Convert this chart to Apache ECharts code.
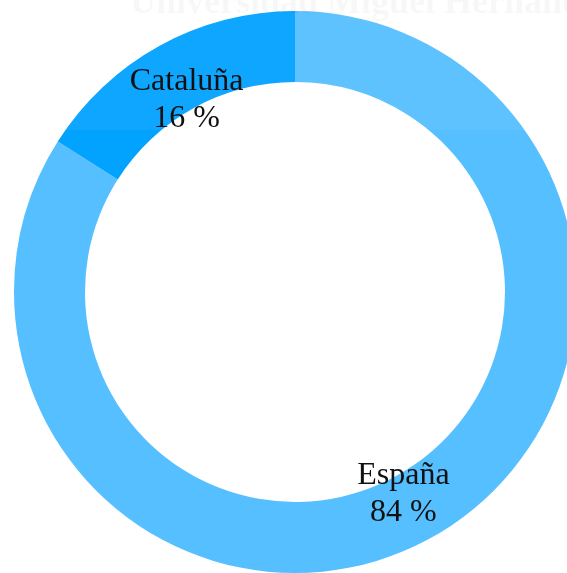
<!DOCTYPE html>
<html>
<head>
<meta charset="utf-8">
<script src="https://cdn.jsdelivr.net/npm/echarts@6/dist/echarts.min.js"></script>
<style>
  html, body { margin: 0; padding: 0; background: #fff; }
  #chart { width: 567px; height: 573px; }
</style>
</head>
<body>
<div id="chart"></div>
<script>
var regiones = ['España', 'Cataluña'];
var porcentajes = [84, 16];
var colores = ['#56BFFF', '#02A2FF'];

var datos = regiones.map(function (n, i) {
  return { name: n, value: porcentajes[i], itemStyle: { color: colores[i] } };
});

var chart = echarts.init(document.getElementById('chart'));
chart.setOption({
  animation: false,
  graphic: [
    {
      type: 'text', left: 130, top: -14, z: 10, silent: true,
      style: {
        text: 'Universidad Miguel Hernández',
        font: 'bold 36px "Liberation Serif"',
        fill: 'rgba(0,0,0,0.035)'
      }
    },
    {
      type: 'rect', z: 10, silent: true,
      shape: { x: 20, y: 0, width: 547, height: 130 },
      style: { fill: 'rgba(255,255,255,0.05)' }
    }
  ],
  series: [
    {
      type: 'pie',
      center: [295, 292],
      radius: [210, 281],
      startAngle: 90,
      clockwise: true,
      label: { show: false },
      labelLine: { show: false },
      emphasis: { disabled: true },
      data: datos
    },
    {
      // serie invisible solo para colocar las etiquetas en el radio ~222
      type: 'pie',
      center: [295, 292],
      radius: [200, 244],
      startAngle: 90,
      clockwise: true,
      silent: true,
      z: 20,
      itemStyle: { color: 'transparent' },
      label: {
        show: true,
        position: 'inside',
        offset: [0, 5],
        fontFamily: 'Liberation Serif',
        fontSize: 32,
        lineHeight: 37,
        color: '#111',
        formatter: function (p) { return p.name + '\n' + p.value + ' %'; }
      },
      labelLine: { show: false },
      emphasis: { disabled: true },
      data: datos.map(function (d) { return { name: d.name, value: d.value, itemStyle: { color: 'transparent' } }; })
    }
  ]
});
</script>
</body>
</html>
